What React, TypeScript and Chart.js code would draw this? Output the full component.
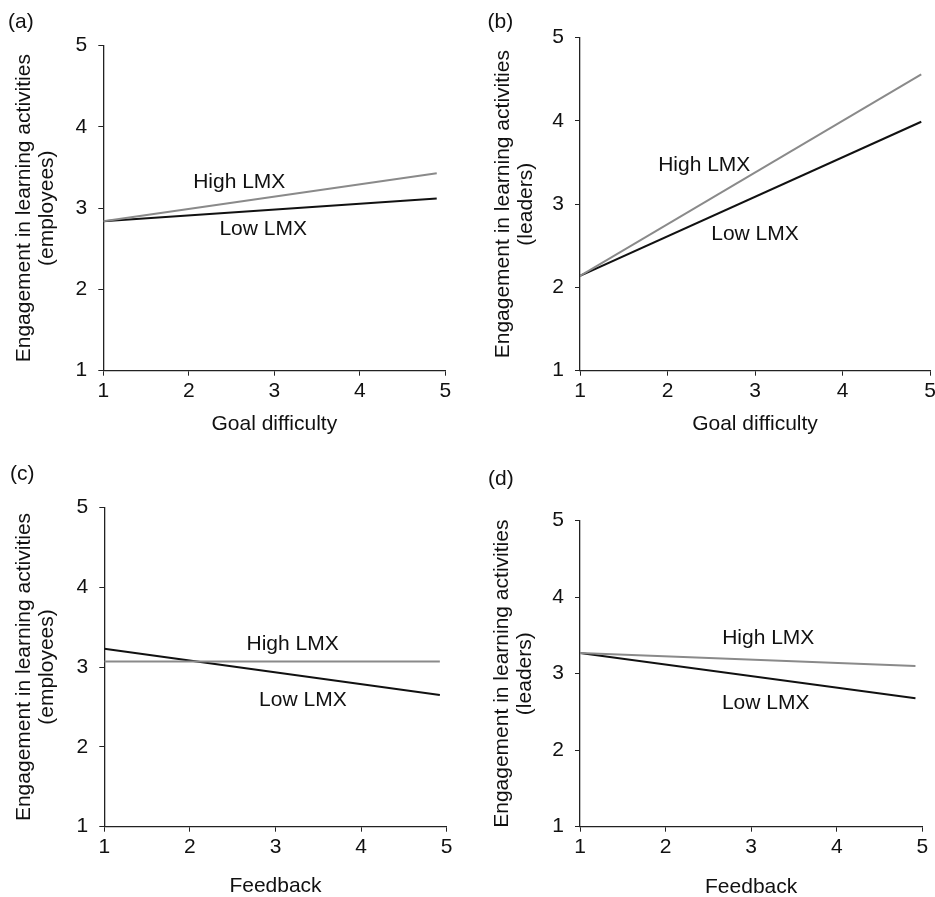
import React, { useEffect, useRef } from 'react';
import { Chart, registerables } from 'chart.js';

Chart.register(...registerables);

// ---- Data ----
const goalX = [1, 4.9];
const feedbackX = [1, 4.92];

const highA = [2.84, 3.43];
const lowA = [2.84, 3.12];
const highB = [2.14, 4.56];
const lowB = [2.14, 3.99];
const highC = [3.07, 3.07];
const lowC = [3.23, 2.65];
const highD = [3.27, 3.1];
const lowD = [3.27, 2.68];

const axisTicks = [1, 2, 3, 4, 5];
const seriesNames = ['High LMX', 'Low LMX'];
const panelLetters = ['(a)', '(b)', '(c)', '(d)'];
const xTitles = ['Goal difficulty', 'Goal difficulty', 'Feedback', 'Feedback'];
const yTitleMain = 'Engagement in learning activities';
const ySubTitles = ['(employees)', '(leaders)', '(employees)', '(leaders)'];

// label anchor positions (data units) for High / Low labels
const labelAnchors = [
  [[2.59, 3.32], [2.87, 2.74]],
  [[2.42, 3.47], [3.0, 2.64]],
  [[3.2, 3.28], [3.32, 2.59]],
  [[3.2, 3.47], [3.17, 2.61]],
];

// ---- Layout (pixels) ----
const PANELS = [
  { x: goalX, high: highA, low: lowA, canvas: { left: 0, top: 0, width: 467, height: 450 }, area: { left: 103.3, top: 45.7, right: 445.3, bottom: 370.7 }, yTitleX: 24.3, xTitleY: 424.7, letter: { left: 8, top: 9 } },
  { x: goalX, high: highB, low: lowB, canvas: { left: 467, top: 0, width: 480, height: 450 }, area: { left: 580, top: 37.7, right: 930, bottom: 370.7 }, yTitleX: 503, xTitleY: 424.7, letter: { left: 487.5, top: 8.8 } },
  { x: feedbackX, high: highC, low: lowC, canvas: { left: 0, top: 450, width: 467, height: 470 }, area: { left: 104.3, top: 507.3, right: 446.7, bottom: 826.7 }, yTitleX: 24, xTitleY: 886, letter: { left: 10, top: 461 } },
  { x: feedbackX, high: highD, low: lowD, canvas: { left: 467, top: 450, width: 480, height: 470 }, area: { left: 580, top: 520.7, right: 922.3, bottom: 826.7 }, yTitleX: 502, xTitleY: 887, letter: { left: 488, top: 466 } },
];

const FONT = "'Liberation Sans', Arial, Helvetica, sans-serif";
const FS = 21;
const Y_TITLE_LH = 23;
const X_TITLE_LH = 25;
const AXIS_COLOR = '#222';
const TEXT_COLOR = '#111';

function labelPlugin(items: { text: string; x: number; y: number }[]) {
  return {
    id: 'lmxLabels',
    afterDatasetsDraw(chart: any) {
      const { ctx, scales } = chart;
      ctx.save();
      ctx.font = `${FS}px ${FONT}`;
      ctx.fillStyle = TEXT_COLOR;
      ctx.textAlign = 'center';
      ctx.textBaseline = 'middle';
      items.forEach((it) => {
        ctx.fillText(it.text, scales.x.getPixelForValue(it.x), scales.y.getPixelForValue(it.y));
      });
      ctx.restore();
    },
  };
}

export default function App() {
  const refs = useRef<(HTMLCanvasElement | null)[]>([]);

  useEffect(() => {
    const charts: Chart[] = [];
    PANELS.forEach((p, i) => {
      const canvas = refs.current[i];
      if (!canvas) return;
      const c = p.canvas;
      const a = p.area;
      const yWidth = a.left - c.left;
      const xHeight = c.height - (a.bottom - c.top);
      const padTop = a.top - c.top;
      const padRight = c.width - (a.right - c.left);
      const yTitlePad = p.yTitleX - c.left - Y_TITLE_LH / 2;
      const xTitlePad = c.top + c.height - p.xTitleY - X_TITLE_LH / 2;

      const mk = (ys: number[]) => p.x.map((xv, k) => ({ x: xv, y: ys[k] }));

      const chart = new Chart(canvas, {
        type: 'line',
        data: {
          datasets: [
            { label: seriesNames[0], data: mk(p.high), borderColor: '#8a8a8a', borderWidth: 2, pointRadius: 0, tension: 0, fill: false },
            { label: seriesNames[1], data: mk(p.low), borderColor: '#111', borderWidth: 2, pointRadius: 0, tension: 0, fill: false },
          ],
        },
        options: {
          animation: false,
          responsive: false,
          maintainAspectRatio: false,
          devicePixelRatio: 1,
          layout: { padding: { top: padTop, right: padRight, left: 0, bottom: 0 } },
          plugins: { legend: { display: false }, tooltip: { enabled: false }, title: { display: false } },
          scales: {
            x: {
              type: 'linear',
              min: axisTicks[0],
              max: axisTicks[axisTicks.length - 1],
              afterBuildTicks: (s: any) => { s.ticks = axisTicks.map((v) => ({ value: v })); },
              afterFit: (s: any) => { s.height = xHeight; },
              ticks: { color: TEXT_COLOR, font: { family: FONT, size: FS }, padding: 3, maxRotation: 0, autoSkip: false },
              grid: { display: true, drawOnChartArea: false, drawTicks: true, tickLength: 5, color: AXIS_COLOR, lineWidth: 1 },
              border: { display: true, color: AXIS_COLOR, width: 1.3 },
              title: { display: true, text: xTitles[i], color: TEXT_COLOR, font: { family: FONT, size: FS, lineHeight: X_TITLE_LH / FS }, padding: { top: 0, bottom: xTitlePad } },
            },
            y: {
              type: 'linear',
              min: axisTicks[0],
              max: axisTicks[axisTicks.length - 1],
              afterBuildTicks: (s: any) => { s.ticks = axisTicks.map((v) => ({ value: v })); },
              afterFit: (s: any) => { s.width = yWidth; },
              ticks: { color: TEXT_COLOR, font: { family: FONT, size: FS }, padding: 11, autoSkip: false },
              grid: { display: true, drawOnChartArea: false, drawTicks: true, tickLength: 5, color: AXIS_COLOR, lineWidth: 1 },
              border: { display: true, color: AXIS_COLOR, width: 1.3 },
              title: { display: true, text: [yTitleMain, ySubTitles[i]], color: TEXT_COLOR, font: { family: FONT, size: FS, lineHeight: Y_TITLE_LH / FS }, padding: { top: yTitlePad, bottom: 0 } },
            },
          },
        },
        plugins: [labelPlugin([
          { text: seriesNames[0], x: labelAnchors[i][0][0], y: labelAnchors[i][0][1] },
          { text: seriesNames[1], x: labelAnchors[i][1][0], y: labelAnchors[i][1][1] },
        ])],
      } as any);
      charts.push(chart);
    });
    return () => charts.forEach((ch) => ch.destroy());
  }, []);

  return (
    <div style={{ position: 'absolute', left: 0, top: 0, width: 935, height: 897, overflow: 'hidden', background: '#fff' }}>
      {PANELS.map((p, i) => (
        <canvas
          key={'c' + i}
          ref={(el) => { refs.current[i] = el; }}
          width={p.canvas.width}
          height={p.canvas.height}
          style={{ position: 'absolute', left: p.canvas.left, top: p.canvas.top, width: p.canvas.width, height: p.canvas.height }}
        />
      ))}
      {PANELS.map((p, i) => (
        <div
          key={'l' + i}
          style={{ position: 'absolute', left: p.letter.left, top: p.letter.top, fontFamily: FONT, fontSize: FS, lineHeight: '24px', color: TEXT_COLOR, whiteSpace: 'nowrap' }}
        >
          {panelLetters[i]}
        </div>
      ))}
    </div>
  );
}
